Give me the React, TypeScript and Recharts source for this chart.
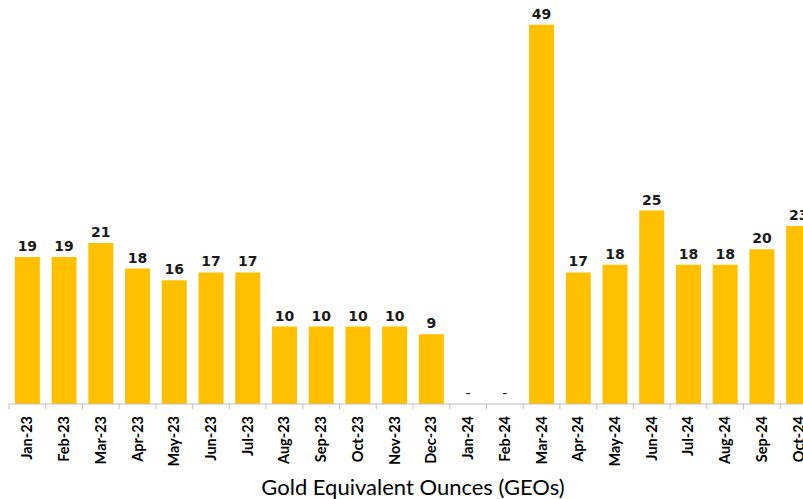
import React from "react";
import { ComposedChart, Bar, Line, XAxis, YAxis, LabelList } from "recharts";

const months = [
  "Jan-23", "Feb-23", "Mar-23", "Apr-23", "May-23", "Jun-23", "Jul-23", "Aug-23",
  "Sep-23", "Oct-23", "Nov-23", "Dec-23", "Jan-24", "Feb-24", "Mar-24", "Apr-24",
  "May-24", "Jun-24", "Jul-24", "Aug-24", "Sep-24", "Oct-24",
];
const geos = [19, 19, 20.8, 17.5, 16, 17, 17, 10, 10, 10, 10, 9, 0, 0, 49, 17, 18, 25, 18, 18, 20, 23];
const axisTitle = "Gold Equivalent Ounces (GEOs)";

const data = months.map((m, i) => ({ month: m, value: geos[i] }));

const CHART_W = 818;
const M_LEFT = 9;
const M_RIGHT = 1;
const CAT_W = (CHART_W - M_LEFT - M_RIGHT) / months.length;

const Tick = (props: any) => {
  const { x, y, payload, index } = props;
  const half = CAT_W / 2;
  const axisY = y - 8;
  return (
    <g>
      <line x1={x - half} x2={x - half} y1={axisY} y2={axisY + 5} stroke="#bfbfbf" strokeWidth={1} />
      {index === months.length - 1 && (
        <line x1={x + half} x2={x + half} y1={axisY} y2={axisY + 5} stroke="#bfbfbf" strokeWidth={1} />
      )}
      <text
        x={0}
        y={0}
        transform={`translate(${x + 5},${axisY + 12}) rotate(-90)`}
        textAnchor="end"
        fontFamily="Lato, 'Open Sans', sans-serif"
        fontWeight={700}
        fontSize={14.5}
        fill="#000"
      >
        {payload.value}
      </text>
    </g>
  );
};

const ValueLabel = (props: any) => {
  const { x, y, width, value } = props;
  const v = Number(value);
  if (v === 0) return null;
  return (
    <text
      x={Number(x) + Number(width) / 2}
      y={Number(y) - 6}
      textAnchor="middle"
      fontFamily="'DejaVu Sans', sans-serif"
      fontWeight={700}
      fontSize={14}
      fill="#1a1a1a"
    >
      {String(Math.round(v))}
    </text>
  );
};

const DashLabel = (props: any) => {
  const { x, y, value } = props;
  if (Number(value) !== 0) return null;
  return (
    <text
      x={Number(x)}
      y={Number(y) - 6}
      textAnchor="middle"
      fontFamily="'DejaVu Sans', sans-serif"
      fontSize={14}
      fill="#1a1a1a"
    >
      -
    </text>
  );
};

export default function App() {
  return (
    <div style={{ position: "fixed", left: 0, top: 0, width: 803, height: 499, overflow: "hidden", background: "#fff" }}>
      <ComposedChart
        width={CHART_W}
        height={499}
        data={data}
        margin={{ top: 17, right: M_RIGHT, left: M_LEFT, bottom: 0 }}
        barCategoryGap="16%"
      >
        <XAxis
          dataKey="month"
          interval={0}
          tickLine={false}
          axisLine={{ stroke: "#bfbfbf" }}
          tick={<Tick />}
          height={95}
          label={{
            value: axisTitle,
            position: "insideBottom",
            offset: 4,
            fontFamily: "Lato, 'Open Sans', sans-serif",
            fontSize: 22,
            fill: "#000",
          }}
        />
        <YAxis hide domain={[0, 50]} />
        <Bar dataKey="value" fill="#FFC000" isAnimationActive={false}>
          <LabelList dataKey="value" content={<ValueLabel />} />
        </Bar>
        <Line
          dataKey="value"
          stroke="none"
          dot={false}
          activeDot={false}
          isAnimationActive={false}
          label={<DashLabel />}
        />
      </ComposedChart>
    </div>
  );
}
